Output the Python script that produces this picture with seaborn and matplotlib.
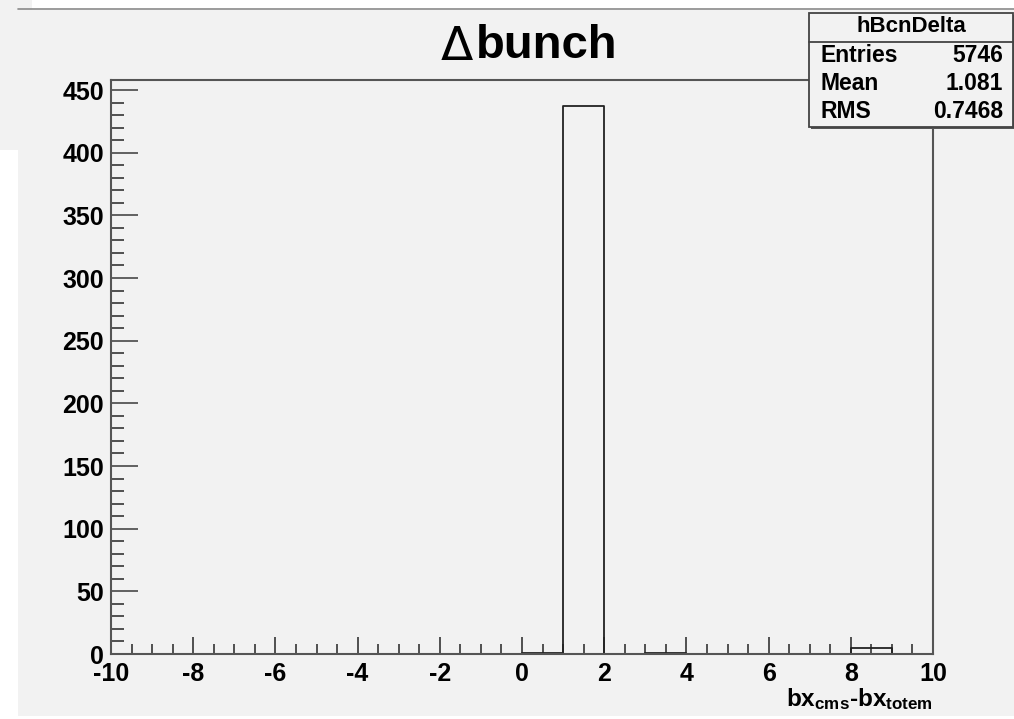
import numpy as np
import pandas as pd
import matplotlib
matplotlib.use("Agg")
import matplotlib.pyplot as plt
from matplotlib.patches import Rectangle
from matplotlib.lines import Line2D
from matplotlib.ticker import MultipleLocator
import seaborn as sns

# ---- data ----
bin_edges = list(range(-10, 11))
bin_centers = [e + 0.5 for e in range(-10, 10)]
counts = [0, 0, 0, 0, 0, 0, 0, 0, 0, 0,
          1, 437, 0, 1, 0, 0, 0, 0, 5, 0]
title_sym = "\u0394"
title_txt = "bunch"
stats_name = "hBcnDelta"
stats_labels = ["Entries", "Mean", "RMS"]
stats_values = ["5746", "1.081", "0.7468"]
x_ticks = [-10, -8, -6, -4, -2, 0, 2, 4, 6, 8, 10]
y_ticks = [0, 50, 100, 150, 200, 250, 300, 350, 400, 450]

df = pd.DataFrame({"x": bin_centers, "w": counts})

sns.set_theme(style="ticks")
plt.rcParams["font.family"] = ["Liberation Sans", "DejaVu Sans"]
plt.rcParams["font.weight"] = "bold"
plt.rcParams["axes.unicode_minus"] = False
plt.rcParams["mathtext.fontset"] = "custom"
plt.rcParams["mathtext.rm"] = "Liberation Sans:bold"
plt.rcParams["mathtext.default"] = "rm"
plt.rcParams["text.color"] = "black"
plt.rcParams["xtick.labelcolor"] = "black"
plt.rcParams["ytick.labelcolor"] = "black"

W, H = 1014, 719
fig = plt.figure(figsize=(W / 100, H / 100), dpi=100, facecolor="white")
BG = "#f2f2f2"

def px(x0, y0, x1, y1):
    return (x0 / W, 1 - y1 / H, (x1 - x0) / W, (y1 - y0) / H)

# canvas background pieces (screenshot)
for (x0, y0, x1, y1) in [(18, 10, W, 716), (0, 0, 32, 150)]:
    l, b, w, h = px(x0, y0, x1, y1)
    fig.add_artist(Rectangle((l, b), w, h, transform=fig.transFigure,
                             facecolor=BG, edgecolor="none", zorder=0))
fig.add_artist(Line2D([18 / W, 1], [1 - 8.5 / H, 1 - 8.5 / H],
                      transform=fig.transFigure, color="#8a8a8a", lw=1.2, zorder=1))

# axes frame
left, right, top, bottom = 111, 933, 80, 654
ax = fig.add_axes([left / W, 1 - bottom / H, (right - left) / W, (bottom - top) / H])
ax.set_facecolor(BG)

sns.histplot(data=df, x="x", weights="w", bins=bin_edges, element="step",
             fill=False, color="#222222", linewidth=1.3, ax=ax)

ax.set_xlim(-10, 10)
ax.set_ylim(0, 458)
ax.set_xticks(x_ticks)
ax.set_yticks(y_ticks)
ax.xaxis.set_minor_locator(MultipleLocator(0.5))
ax.yaxis.set_minor_locator(MultipleLocator(10))
for s in ax.spines.values():
    s.set_visible(True)
    s.set_color("#555555")
    s.set_linewidth(1.5)
ax.tick_params(axis="x", which="major", direction="in", length=12, width=1.3,
               color="#444444", labelsize=18, pad=6, labelcolor="black")
ax.tick_params(axis="x", which="minor", direction="in", length=7, width=1.3,
               color="#444444")
ax.tick_params(axis="y", which="major", direction="in", length=19.5, width=1.3,
               color="#555555", labelsize=18, pad=5, labelcolor="black")
ax.tick_params(axis="y", which="minor", direction="in", length=9.5, width=1.3,
               color="#444444")
for lab in ax.get_xticklabels() + ax.get_yticklabels():
    lab.set_fontweight("bold")
ax.set_xlabel("")
ax.set_ylabel("")

# title
fig.text(441 / W, 1 - 47 / H, title_sym, fontsize=34, fontweight="normal",
         family=["DejaVu Sans"], ha="left", va="center", color="black")
fig.text(476 / W, 1 - 46 / H, title_txt, fontsize=34, fontweight="bold",
         ha="left", va="center", color="black")

# x label
fig.text(933 / W, 1 - 706 / H, r"bx$_{cms}$-bx$_{totem}$", fontsize=17.5,
         fontweight="bold", ha="right", va="baseline", color="black")

# stats box
bx0, by0, bx1, by1 = 809, 13, 1013, 127
l, b, w, h = px(bx0, by0, bx1, by1)
fig.add_artist(Rectangle((l + 2 / W, b - 2 / H), w, h, transform=fig.transFigure,
                         facecolor="#555555", edgecolor="none", zorder=5))
fig.add_artist(Rectangle((l, b), w, h, transform=fig.transFigure,
                         facecolor=BG, edgecolor="#444444", lw=1.3, zorder=6))
fig.add_artist(Line2D([bx0 / W, bx1 / W], [1 - 42 / H, 1 - 42 / H],
                      transform=fig.transFigure, color="#444444", lw=1.3, zorder=7))
fig.text(911 / W, 1 - 27 / H, stats_name, fontsize=16, fontweight="bold",
         ha="center", va="center", zorder=8)
row_y = [55, 83, 111]
for lab, val, yy in zip(stats_labels, stats_values, row_y):
    fig.text(820 / W, 1 - yy / H, lab, fontsize=16.5, fontweight="bold",
             ha="left", va="center", zorder=8)
    fig.text(1003 / W, 1 - yy / H, val, fontsize=16.5, fontweight="bold",
             ha="right", va="center", zorder=8)

fig.savefig("out.png", dpi=100, facecolor=fig.get_facecolor())
